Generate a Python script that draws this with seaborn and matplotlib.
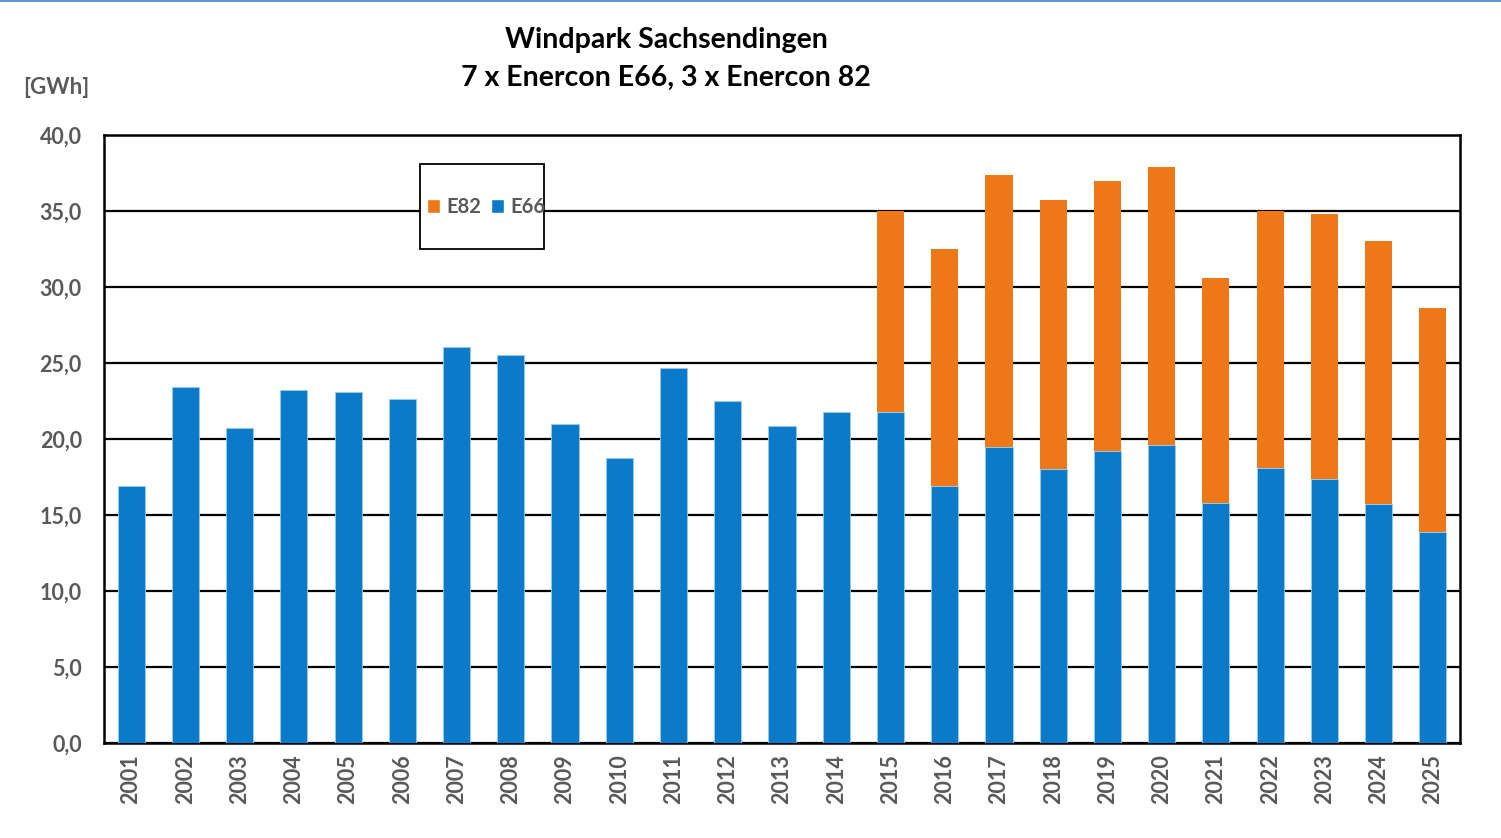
import pandas as pd
import matplotlib.pyplot as plt
import seaborn as sns
from matplotlib.patches import Rectangle, Patch
from matplotlib.lines import Line2D
from matplotlib.ticker import FuncFormatter, MultipleLocator

years = [str(y) for y in range(2001, 2026)]
e66 = [16.9, 23.4, 20.7, 23.2, 23.1, 22.6, 26.05, 25.5, 21.0, 18.75,
       24.7, 22.5, 20.85, 21.8, 21.8, 16.9, 19.5, 18.0, 19.2, 19.6,
       15.8, 18.1, 17.4, 15.7, 13.9]
e82 = [0, 0, 0, 0, 0, 0, 0, 0, 0, 0,
       0, 0, 0, 0, 13.2, 15.6, 17.9, 17.7, 17.8, 18.3,
       14.8, 16.9, 17.4, 17.3, 14.7]

BLUE = "#0B7BC9"
ORANGE = "#EE7718"
GREY = "#595959"

df = pd.DataFrame({"Jahr": years, "E66": e66, "E82": e82})

sns.set_theme(style="white")
plt.rcParams["font.family"] = ["Lato", "DejaVu Sans"]

fig = plt.figure(figsize=(15.01, 8.38), dpi=100)
ax = fig.add_axes([104 / 1501, 1 - 743 / 838, 1356 / 1501, 608 / 838])

sns.barplot(data=df, x="Jahr", y="E66", color=BLUE, width=0.5, saturation=1,
            edgecolor="#9DCBEA", linewidth=0.6, ax=ax, zorder=3)
sns.barplot(data=df, x="Jahr", y="E82", color=ORANGE, width=0.5, saturation=1,
            bottom=df["E66"], linewidth=0, ax=ax, zorder=3)

ax.set_ylim(0, 40)
ax.set_xlim(-0.5, len(years) - 0.5)
ax.yaxis.set_major_locator(MultipleLocator(5))
ax.yaxis.set_major_formatter(FuncFormatter(lambda v, p: f"{v:.1f}".replace(".", ",")))
ax.grid(axis="y", color="black", linewidth=1.6, zorder=1)
ax.set_axisbelow(True)
ax.set_xlabel("")
ax.set_ylabel("")
for s in ax.spines.values():
    s.set_color("black")
    s.set_linewidth(1.8)
    s.set_visible(True)
ax.tick_params(axis="both", length=0, labelsize=15.5, labelcolor=GREY)
ax.tick_params(axis="y", pad=16)
ax.tick_params(axis="x", pad=8)
for lbl in ax.get_xticklabels():
    lbl.set_rotation(90)
    lbl.set_fontweight("bold")
for lbl in ax.get_yticklabels():
    lbl.set_fontweight("bold")

# legend box
ax.add_patch(Rectangle(((420 - 104) / 1356, (743 - 249) / 608), 124 / 1356, 85 / 608,
                       transform=ax.transAxes, facecolor="white", edgecolor="black",
                       linewidth=1.3, zorder=4))
handles = [Patch(facecolor=ORANGE, label="E82"), Patch(facecolor=BLUE, label="E66")]
leg = ax.legend(handles=handles, loc="center", bbox_to_anchor=((486 - 104) / 1356, (743 - 207) / 608),
                ncol=2, frameon=False, handlelength=0.65, handleheight=0.65,
                handletextpad=0.3, columnspacing=0.5, borderpad=0,
                prop={"weight": "bold", "size": 14.5})
leg.set_zorder(5)
for t in leg.get_texts():
    t.set_color(GREY)

fig.text(666 / 1501, 1 - 40 / 838, "Windpark Sachsendingen", ha="center", va="center",
         fontsize=20.5, fontweight="bold", color="black")
fig.text(666 / 1501, 1 - 78 / 838, "7 x Enercon E66, 3 x Enercon 82", ha="center", va="center",
         fontsize=20.5, fontweight="bold", color="black")
fig.text(56 / 1501, 1 - 88 / 838, "[GWh]", ha="center", va="center",
         fontsize=16, fontweight="bold", color=GREY)

fig.add_artist(Line2D([0, 1], [0.999, 0.999], transform=fig.transFigure,
                      color="#5B9BD5", linewidth=1.5))

fig.savefig("out.png", dpi=100, facecolor="white")
